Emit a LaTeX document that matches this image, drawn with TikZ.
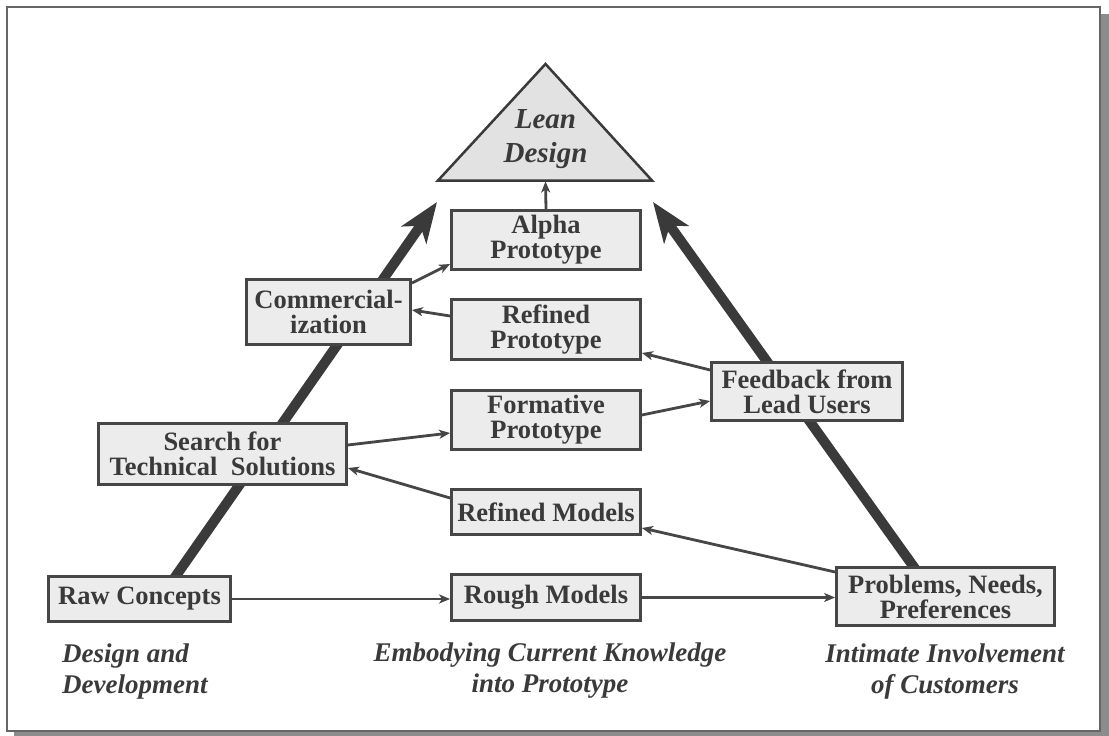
\documentclass[tikz,border=0pt]{standalone}
\usepackage{fontspec}
\setmainfont{Liberation Serif}
\usetikzlibrary{arrows.meta}
\definecolor{ink}{HTML}{3A3A3A}
\definecolor{edgec}{HTML}{464646}
\definecolor{boxfill}{HTML}{ECECEC}
\definecolor{trifill}{HTML}{E2E2E2}
\definecolor{shadowc}{HTML}{8C8C8C}
\definecolor{framec}{HTML}{666666}
\newcommand\bxfnt{\bfseries\fontsize{26.5}{25}\selectfont}
\newcommand\lblfnt{\bfseries\itshape\fontsize{27}{31}\selectfont}
\newcommand\leanfnt{\bfseries\itshape\fontsize{29}{34}\selectfont}
\begin{document}
\begin{tikzpicture}[x=1pt,y=-1pt,
  box/.style={draw=edgec, line width=2.8pt, fill=boxfill, text=ink, font=\bxfnt, align=center, inner sep=0pt},
  lbl/.style={text=ink, font=\lblfnt, inner sep=0pt},
  bigarrow/.style={draw=ink, line width=10pt, -{Stealth[length=40pt, width=30pt, inset=11pt]}},
  conn/.style={draw=edgec, line width=2.8pt, -{Stealth[length=11pt, width=9pt, inset=3pt]}}]
\useasboundingbox (0,0) rectangle (1109,736);
% frame with shadow
\fill[shadowc] (14,14) rectangle (1109,736);
\draw[draw=framec, fill=white, line width=2pt] (7,7) rectangle (1100,731);
% big arrows
\coordinate (lbase) at (173,580);
\coordinate (ltip) at (437,202);
\coordinate (rbase) at (916,570);
\coordinate (rtip) at (653,202);
\draw[bigarrow] (lbase) -- (ltip);
\draw[bigarrow] (rbase) -- (rtip);
% triangle
\draw[draw=ink, fill=trifill, line width=2.5pt, line join=miter] (545.5,64) -- (652,180.5) -- (438,180.5) -- cycle;
\coordinate (tribase) at (545.5,181.5);
\node[text=ink, font=\leanfnt, inner sep=0pt, align=center] (lean) at (545.5,139) {Lean\\Design};
% boxes
\node[box, minimum width=189pt, minimum height=59pt] (alpha) at (546,240) {Alpha\\Prototype};
\node[box, minimum width=164pt, minimum height=65pt] (comm) at (328.5,312) {Commercial-\\ization};
\node[box, minimum width=189pt, minimum height=60pt] (refp) at (546,329.5) {Refined\\Prototype};
\node[box, minimum width=189pt, minimum height=59pt] (form) at (546,420) {Formative\\Prototype};
\node[box, minimum width=191pt, minimum height=58pt] (feed) at (807,391.5) {Feedback from\\Lead Users};
\node[box, minimum width=248pt, minimum height=61pt] (search) at (222.5,454) {Search for\\Technical\ \ Solutions};
\node[box, minimum width=189pt, minimum height=45pt] (refm) at (546,512) {Refined Models};
\node[box, minimum width=182pt, minimum height=45pt] (raw) at (139.5,599) {Raw Concepts};
\node[box, minimum width=189pt, minimum height=46pt] (rough) at (546,597.5) {Rough Models};
\node[box, minimum width=218pt, minimum height=58pt] (prob) at (945.5,596.5) {Problems, Needs,\\Preferences};
% connectors
\draw[conn] (alpha.north) -- (tribase);
\draw[conn] ([yshift=29pt]comm.east) -- ([yshift=-24pt]alpha.west);
\draw[conn] ([yshift=13.5pt]refp.west) -- ([yshift=2pt]comm.east);
\draw[conn] ([yshift=21.5pt]feed.west) -- ([yshift=-23.5pt]refp.east);
\draw[conn] ([yshift=5pt]form.east) -- ([yshift=-9.5pt]feed.west);
\draw[conn] ([yshift=9pt]search.east) -- ([yshift=-13pt]form.west);
\draw[conn] ([yshift=14pt]refm.west) -- ([yshift=-14pt]search.east);
\draw[conn] ([yshift=24.5pt]prob.west) -- ([yshift=-16pt]refm.east);
\draw[conn] (raw.east) -- (rough.west |- raw.east);
\draw[conn] (rough.east) -- (prob.west |- rough.east);
% bottom labels
\node[lbl, align=left, anchor=west] (dd) at (62,671) {Design and\\Development};
\node[lbl, align=center] (emb) at (550,671) {Embodying Current Knowledge\\into Prototype};
\node[lbl, align=center] (cust) at (945,671) {Intimate Involvement\\of Customers};
\end{tikzpicture}
\end{document}
